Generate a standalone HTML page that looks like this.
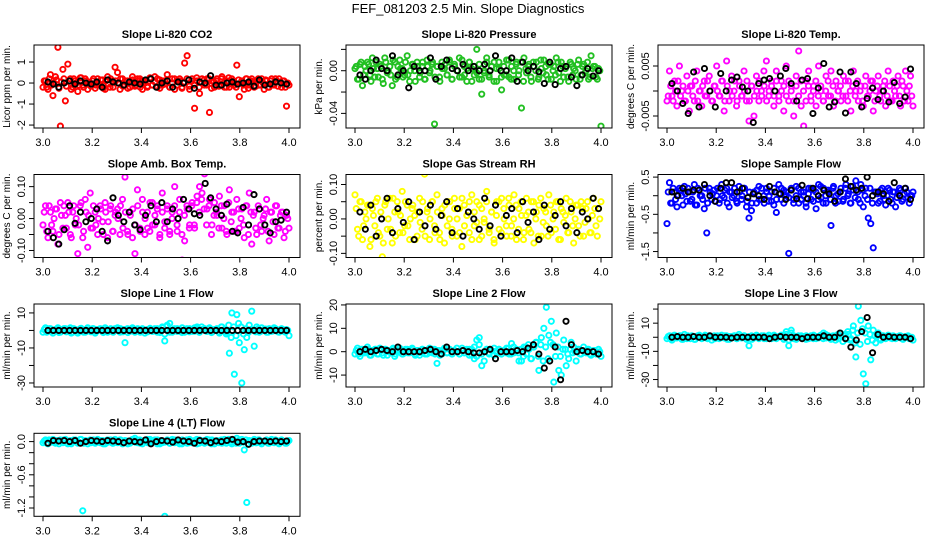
<!DOCTYPE html>
<html><head><meta charset="utf-8"><style>
html,body{margin:0;padding:0;background:#fff;}
svg{display:block;font-family:"Liberation Sans",Arial,sans-serif;}
</style></head><body>
<svg id="chart" width="936" height="540" viewBox="0 0 936 540">
<text x="468" y="13" text-anchor="middle" font-size="13">FEF_081203  2.5 Min. Slope Diagnostics</text>
</svg>
<script>
// ---------- data ----------
const xTicks = [3.0, 3.2, 3.4, 3.6, 3.8, 4.0];
const xTickLabels = ["3.0", "3.2", "3.4", "3.6", "3.8", "4.0"];

const co2Vals = [-0.2,0.1,-0.3,0.4,-0.6,0.3,1.7,-2.05,0.65,-0.85,0.9,0.2,-0.2,0.1,-0.4,0.25,-0.1,0.2,-0.3,0.0,
0.1,-0.25,0.2,-0.1,0.15,-0.3,0.3,-0.2,0.1,0.75,0.5,-0.3,0.2,-0.1,0.1,-0.2,0.3,-0.15,0.1,0.2,
-0.3,0.1,-0.2,0.2,-0.1,0.3,-0.2,0.15,-0.1,0.1,0.4,-0.2,0.2,-0.3,0.1,0.2,-0.2,0.95,1.3,-0.3,
0.2,-1.2,0.1,-0.5,0.2,-0.1,0.2,-1.4,0.1,-0.2,0.2,-0.1,0.3,-0.2,0.1,-0.2,0.2,-0.1,0.85,-0.65,
0.1,-0.3,0.2,-0.1,0.2,-0.2,0.1,-0.1,0.2,-0.3,0.1,-0.2,0.2,-0.1,0.1,0.2,-0.2,0.1,-1.1,-0.1];
const co2Vals2 = [0.1,-0.2,0.2,-0.1,0.0,0.15,-0.25,0.05,0.2,-0.15,0.1,-0.3,0.2,0.0,-0.1,0.25,-0.2,0.1,0.05,-0.15,
0.2,-0.1,0.0,0.15,-0.25,0.1,-0.05,0.2,-0.2,0.1,0.0,0.2,-0.15,0.1,-0.25,0.05,0.15,-0.1,0.2,-0.2,
0.1,0.0,-0.15,0.25,-0.1,0.05,0.2,-0.25,0.1,-0.05,0.15,-0.2,0.0,0.2,-0.1,0.1,-0.25,0.05,0.2,-0.15,
0.1,-0.1,0.25,-0.2,0.0,0.15,-0.1,0.2,-0.25,0.05,0.1,-0.15,0.2,0.0,-0.2,0.25,-0.05,0.1,-0.2,0.15,
0.0,-0.1,0.2,-0.25,0.1,0.05,-0.15,0.2,-0.1,0.0,0.15,-0.2,0.1,-0.05,0.2,-0.15,0.05,0.1,-0.2,0.0];
const co2Ref = [0.05,-0.05,-0.2,0.0,0.1,-0.05,0.1,0.0,-0.05,0.05,-0.2,0.15,0.05,0.0,-0.1,0.05,0.0,-0.05,0.15,0.2,-0.2,0.0,0.1,-0.2,0.05,0.0,0.15,-0.25,0.05,0.0,0.35,-0.1,-0.1,0.0,0.05,-0.05,0.0,0.05,-0.15,0.15,-0.1,-0.05,0.05,0.0,-0.05];

const presVals = [0.002,-0.008,0.006,-0.014,0.004,0.008,-0.004,0.012,-0.006,0.002,
0.006,-0.008,0.012,-0.002,0.004,-0.014,0.008,-0.006,0.01,0.002,
-0.004,0.014,-0.01,0.006,0.0,0.008,-0.006,0.004,-0.008,0.01,
-0.002,0.006,-0.05,0.004,-0.006,0.008,0.002,-0.004,0.01,-0.008,
0.006,0.0,0.012,-0.006,0.004,-0.01,0.008,0.002,-0.004,0.02,
-0.008,-0.022,-0.002,0.012,-0.006,0.004,0.008,-0.01,0.002,-0.018,
-0.004,0.01,-0.006,0.004,-0.008,0.008,0.0,-0.035,0.012,-0.002,
0.006,-0.01,0.004,0.008,-0.006,0.002,0.01,-0.004,0.006,-0.008,
0.004,0.012,-0.002,0.008,-0.006,0.004,-0.01,0.006,0.002,-0.008,
0.01,-0.004,0.006,0.0,-0.008,0.014,0.004,-0.006,0.002,-0.052];
const presVals2 = [0.004,-0.008,0.008,-0.004,0.0,0.006,-0.01,0.002,0.008,-0.006,0.004,-0.012,0.008,0.0,-0.004,0.01,-0.008,0.004,0.002,-0.006,
0.008,-0.004,0.0,0.006,-0.01,0.004,-0.002,0.008,-0.008,0.004,0.0,0.008,-0.006,0.004,-0.01,0.002,0.006,-0.004,0.008,-0.008,
0.004,0.0,-0.006,0.01,-0.004,0.002,0.008,-0.01,0.004,-0.002,0.006,-0.008,0.0,0.008,-0.004,0.004,-0.01,0.002,0.008,-0.006,
0.004,-0.004,0.01,-0.008,0.0,0.006,-0.004,0.008,-0.01,0.002,0.004,-0.006,0.008,0.0,-0.008,0.01,-0.002,0.004,-0.008,0.006,
0.0,-0.004,0.008,-0.01,0.004,0.002,-0.006,0.008,-0.004,0.0,0.006,-0.008,0.004,-0.002,0.008,-0.006,0.002,0.004,-0.008,0.0];
const presRef = [-0.004,-0.008,0.0,0.01,0.002,0.0,0.014,-0.004,0.0,-0.016,0.004,0.0,0.0,0.012,-0.008,0.004,0.01,0.002,0.0,0.006,0.0,0.004,0.0,0.006,0.0,0.014,0.0,0.0,0.012,-0.01,0.008,0.0,0.004,-0.001,-0.012,0.008,-0.013,0.002,0.004,-0.006,-0.014,-0.004,0.002,-0.005,0.0];

const tempVals = [-0.002,0.004,-0.001,0.002,-0.003,0.005,0.0,-0.002,0.003,-0.004,
0.001,-0.002,0.004,0.0,-0.003,0.002,-0.001,0.003,-0.002,0.001,
0.005,-0.001,0.002,-0.004,0.006,-0.002,0.003,0.0,-0.003,0.002,
-0.001,0.004,-0.002,-0.006,0.001,-0.005,0.003,-0.002,0.0,0.004,
0.006,-0.001,0.002,-0.003,0.004,-0.001,0.002,-0.004,0.005,-0.002,
0.001,-0.005,0.003,0.008,-0.003,-0.007,0.002,0.004,-0.002,0.001,
-0.003,0.005,0.0,-0.002,0.003,-0.001,0.004,-0.003,0.002,0.0,
-0.002,0.003,-0.001,0.002,-0.004,0.004,0.0,-0.002,0.001,-0.003,
0.003,-0.001,0.002,-0.004,0.0,0.003,-0.002,0.001,-0.003,0.004,
-0.002,0.002,-0.001,0.003,-0.003,0.001,0.004,-0.002,0.003,-0.003];
const tempVals2 = [-0.001,0.001,-0.002,0.0,0.002,-0.001,0.001,-0.002,0.0,0.001,-0.001,0.002,-0.002,0.0,0.001,-0.001,0.002,0.0,-0.002,0.001,
0.0,-0.001,0.002,-0.002,0.001,0.0,-0.001,0.002,-0.002,0.001,-0.001,0.0,0.002,-0.002,0.001,-0.001,0.0,0.002,-0.001,0.001,
-0.002,0.0,0.001,-0.001,0.002,-0.002,0.0,0.001,-0.001,0.002,0.0,-0.002,0.001,-0.001,0.002,0.0,-0.002,0.001,-0.001,0.0,
0.002,-0.001,0.001,-0.002,0.0,0.002,-0.001,0.001,-0.002,0.0,0.001,-0.001,0.002,-0.002,0.0,0.001,-0.001,0.002,0.0,-0.002,
0.001,-0.001,0.0,0.002,-0.002,0.001,-0.001,0.0,0.002,-0.001,0.001,-0.002,0.0,0.001,-0.001,0.002,-0.002,0.0,0.001,-0.001];
const tempRef = [0.0015,0.0,-0.0025,-0.0045,0.0038,-0.0032,0.0045,0.0,-0.0032,0.0035,0.0,0.0022,0.0028,0.0008,0.0,-0.0063,0.0015,0.0022,0.0025,0.0,0.003,0.0045,0.0015,-0.002,0.0022,0.0025,-0.0045,0.0006,0.0055,-0.0032,-0.0022,0.0038,-0.0044,0.0038,0.0015,-0.0032,-0.0015,0.0006,-0.0017,0.0,-0.0022,0.0017,-0.0025,-0.0012,0.0044];

const ambVals = [-0.02,0.04,-0.06,0.02,-0.04,0.03,-0.08,0.05,-0.03,0.01,
0.05,-0.05,0.02,-0.02,-0.11,0.04,-0.06,0.06,-0.09,0.08,
-0.03,0.02,-0.05,0.04,-0.01,0.05,-0.06,0.03,-0.04,0.01,
0.03,-0.05,0.06,0.13,-0.04,0.02,-0.06,-0.11,0.09,-0.03,
0.06,-0.05,0.02,-0.04,0.05,-0.02,0.03,-0.06,0.08,-0.03,
0.04,-0.05,0.02,0.1,-0.04,0.06,-0.13,-0.07,0.03,-0.02,
0.05,-0.03,0.07,0.1,0.08,0.14,0.03,0.06,-0.02,0.05,
0.01,0.07,-0.03,0.04,-0.05,0.09,0.02,-0.04,0.06,-0.03,
0.03,-0.06,0.04,0.08,-0.08,0.02,-0.05,0.03,-0.04,0.01,
0.06,-0.07,0.02,-0.05,0.04,-0.03,0.02,-0.06,0.01,-0.03];
const ambVals2 = [0.02,-0.04,0.04,-0.02,0.0,0.03,-0.05,0.01,0.04,-0.03,0.02,-0.06,0.04,0.0,-0.02,0.05,-0.04,0.02,0.01,-0.03,
0.04,-0.02,0.0,0.03,-0.05,0.02,-0.01,0.04,-0.04,0.02,0.0,0.04,-0.03,0.02,-0.05,0.01,0.03,-0.02,0.04,-0.04,
0.02,0.0,-0.03,0.05,-0.02,0.01,0.04,-0.05,0.02,-0.01,0.03,-0.04,0.0,0.04,-0.02,0.02,-0.05,0.01,0.04,-0.03,
0.04,-0.02,0.05,0.02,0.06,0.03,-0.02,0.04,-0.05,0.01,0.02,-0.03,0.04,0.0,-0.04,0.05,-0.01,0.02,-0.04,0.03,
0.0,-0.02,0.04,-0.05,0.02,0.01,-0.03,0.04,-0.02,0.0,0.03,-0.04,0.02,-0.01,0.04,-0.03,0.01,0.02,-0.04,0.0];
const ambRef = [-0.04,-0.06,-0.08,-0.035,0.04,-0.015,0.02,-0.01,0.0,0.03,-0.04,-0.07,0.065,0.01,-0.01,0.02,-0.02,-0.035,0.01,0.04,-0.01,0.05,-0.01,0.03,0.0,0.06,0.03,0.015,0.01,0.11,0.065,0.03,0.01,0.045,-0.04,-0.045,0.035,-0.02,0.075,0.03,-0.02,-0.045,-0.01,-0.005,0.02];

const rhVals = [0.07,-0.03,0.05,-0.06,0.02,0.04,-0.08,0.03,-0.02,0.06,
-0.05,-0.11,0.04,-0.03,0.06,-0.07,0.02,0.05,-0.04,0.08,
-0.02,0.04,-0.06,0.03,0.01,-0.05,0.06,-0.03,0.13,0.02,
-0.06,0.05,-0.02,0.07,-0.04,0.03,-0.07,0.05,0.0,-0.03,
0.06,-0.05,0.03,-0.08,0.04,0.01,-0.04,0.07,-0.02,0.05,
-0.06,0.03,-0.01,0.08,-0.04,0.02,-0.07,0.05,-0.03,0.06,
0.0,-0.05,0.04,-0.02,0.07,-0.06,0.03,0.01,-0.04,0.06,
-0.03,0.05,-0.07,0.02,0.04,-0.05,0.03,-0.02,0.07,-0.04,
0.02,0.05,-0.06,0.03,-0.01,0.06,-0.04,0.02,-0.07,0.04,
-0.02,0.05,-0.05,0.03,0.0,-0.04,0.06,-0.02,0.03,0.05];
const rhVals2 = [0.03,-0.05,0.05,-0.02,0.0,0.04,-0.06,0.01,0.05,-0.04,0.02,-0.07,0.05,0.0,-0.03,0.06,-0.05,0.02,0.01,-0.04,
0.05,-0.02,0.0,0.04,-0.06,0.02,-0.01,0.05,-0.05,0.03,0.0,0.05,-0.04,0.02,-0.06,0.01,0.04,-0.02,0.05,-0.05,
0.03,0.0,-0.04,0.06,-0.02,0.01,0.05,-0.06,0.02,-0.01,0.04,-0.05,0.0,0.05,-0.03,0.02,-0.06,0.01,0.05,-0.04,
0.03,-0.02,0.06,-0.05,0.0,0.04,-0.03,0.05,-0.06,0.01,0.02,-0.04,0.05,0.0,-0.05,0.06,-0.01,0.02,-0.05,0.04,
0.0,-0.03,0.05,-0.06,0.02,0.01,-0.04,0.05,-0.02,0.0,0.04,-0.05,0.03,-0.01,0.05,-0.04,0.01,0.03,-0.05,0.0];
const rhRef = [0.02,-0.03,0.04,-0.05,0.0,0.06,-0.04,0.03,-0.01,0.05,-0.06,0.02,-0.02,0.04,-0.03,0.01,0.05,-0.04,0.03,-0.05,0.02,0.0,-0.03,0.06,-0.02,0.04,-0.05,0.01,0.03,-0.04,0.05,-0.01,0.02,-0.06,0.04,-0.03,0.01,0.05,-0.02,0.03,-0.04,0.02,0.0,0.06,0.03];

const sampVals = [-0.75,0.35,-0.2,0.1,-0.3,0.2,0.0,0.25,-0.15,0.1,
-0.1,0.3,-0.25,0.15,0.0,-0.35,-1.0,0.2,-0.1,0.15,
0.0,-0.2,0.3,-0.05,0.2,-0.3,0.1,0.0,-0.15,0.25,
-0.1,0.2,-0.3,-0.6,-0.4,0.1,-0.2,0.25,-0.1,0.0,
0.2,-0.15,0.1,-0.25,-0.45,0.3,-0.1,0.15,0.0,-1.55,
0.2,-0.1,0.25,-0.2,0.1,0.0,-0.3,0.2,-0.1,0.15,
-0.35,0.3,-0.05,0.2,-0.2,0.1,-0.8,0.25,0.0,-0.15,
0.2,-0.1,0.3,0.05,-0.2,0.15,0.4,-0.1,0.3,-0.3,
0.2,-0.6,-0.75,-1.4,0.1,-0.2,0.15,0.0,-0.25,0.2,
-0.1,0.1,-0.3,0.05,0.15,-0.1,0.2,-0.05,0.0,0.1];
const sampVals2 = [0.1,-0.2,0.2,-0.1,0.0,0.15,-0.25,0.05,0.2,-0.15,0.1,-0.25,0.2,0.0,-0.1,0.2,-0.2,0.1,0.05,-0.15,
0.2,-0.1,0.0,0.15,-0.2,0.1,-0.05,0.2,-0.2,0.1,0.0,0.2,-0.15,0.1,-0.2,0.05,0.15,-0.1,0.2,-0.2,
0.1,0.0,-0.15,0.2,-0.1,0.05,0.2,-0.2,0.1,-0.05,0.15,-0.2,0.0,0.2,-0.1,0.1,-0.2,0.05,0.2,-0.15,
0.1,-0.1,0.25,-0.2,0.0,0.15,-0.1,0.2,-0.2,0.05,0.1,-0.15,0.2,0.0,-0.2,0.25,-0.05,0.1,-0.2,0.15,
0.0,-0.1,0.2,-0.2,0.1,0.05,-0.15,0.2,-0.1,0.0,0.15,-0.2,0.1,-0.05,0.2,-0.15,0.05,0.1,-0.2,0.0];
const sampRef = [0.1,0.0,0.2,0.1,0.15,0.15,0.3,0.0,-0.15,0.2,0.35,0.35,0.1,0.2,-0.05,0.05,0.0,-0.1,0.25,0.1,0.05,-0.1,0.15,-0.08,0.28,-0.08,0.2,0.0,0.15,0.05,-0.15,0.1,0.45,0.25,0.15,0.2,0.5,0.0,0.1,0.05,-0.15,0.35,0.0,0.2,-0.1];

const line1Vals = [-1,1.5,-0.5,1,-1.5,0.5,1.5,-1,0.5,1,
-0.5,1.5,-1,0.5,-1.5,1,0,-1,1.5,-0.5,
1,-1.5,0.5,1,-0.5,1.5,-1,0.5,-0.5,1,
1.5,-1,0.5,-7,1,-0.5,1.5,-1,0.5,0,
1,-1.5,0.5,1,-0.5,1,-1,0.5,1.5,-6,
3,4,-1,0.5,1,-0.5,1.5,-1,0.5,1,
-0.5,1.5,2,-1,0.5,1,-0.5,1.5,-1,0.5,
1,-1.5,2,0.5,-1,-13,10,-25,9,-7,
-30,-11,-4,3,11,-9,2,-1,1.5,0.5,
-1,1,-0.5,1.5,0.5,-1,1,-0.5,0.5,-3];
const line1Vals2 = [0.5,-1,1,-0.5,0,0.8,-1.2,0.3,1,-0.8,0.5,-1.5,1,0,-0.5,1.2,-1,0.5,0.3,-0.8,
1,-0.5,0,0.8,-1.2,0.5,-0.3,1,-1,0.5,0,1,-0.8,0.5,-1.2,0.3,0.8,-0.5,1,-1,
0.5,0,-0.8,1.2,-0.5,0.3,1,-1.2,2,-2,2.5,-1,0,1,-0.5,0.5,-1.2,0.3,1,-0.8,
0.5,-0.5,1.2,-1,2,0.8,-0.5,1,-1.2,0.3,0.5,-0.8,2,0,-2,3,-4,2,-3,4,
2,-2,1,-1.2,0.5,0.3,-0.8,1,-0.5,0,0.8,-1,0.5,-0.3,1,-0.8,0.3,0.5,-1,0];
const line1Ref = [0,0,0,0,0,0,0,0,0,0,0,0,0,0,0,0,0,0,0,0,0,0,0,0,0,0,0,0,0,0,0,0,0,0,0,0,0,0,0,0,0,0,0,0,0];

const line2Vals = [-1,1.5,-2,1,-0.5,2,-1.5,0.5,1,-1,
1.5,-0.5,1,-1.5,0.5,1,-2,0.5,1.5,-1,
0.5,1,-0.5,1.5,-1,0.5,-1.5,1,0.5,-1,
1.5,-0.5,1,-5,0.5,-1,1.5,-0.5,1,-1,
0.5,1.5,-1,0.5,-0.5,1,-1.5,1,-3,5,
6,-6,-4,1,-1,0.5,1.5,-0.5,1,-1,
0.5,1.5,-1,3.5,-0.5,1,-4,-4,2,-1,
1,-3,2,4,-8,6,10,19,7,13,
-13,8,-8,-10,5,-6,-3,4,2,-4,
1,-1,2,-0.5,1,-1.5,0.5,-1,1,-2];
const line2Vals2 = [0.5,-1,1,-0.5,0,1,-1.5,0.3,1,-1,0.5,-1.5,1,0,-0.5,1.5,-1,0.5,0.3,-1,
1,-0.5,0,1,-1.5,0.5,-0.3,1,-1,0.5,0,1,-1,0.5,-1.5,0.3,1,-0.5,1,-1,
0.5,0,-1,1.5,-0.5,0.3,1,-1.5,2,-2,3,-1,0,1,-0.5,0.5,-1.5,0.3,1,-1,
0.5,-0.5,1.5,-1,2,1,-0.5,1,-2,2,3,-3,2,4,-2,3,-4,2,-3,4,
3,-2,2,-2,1,1,-1,1,-0.5,0,1,-1,0.5,-0.3,1,-1,0.3,0.5,-1,0];
const line2Ref = [0,1,0,0.5,1,0.5,0,2,0,0,0,0,0.5,1,0,-1,2,0,0,0.5,0,-0.5,-0.5,0,1,-3,0,0,0,0.5,0,1.5,3,-1,-7,-4,2,-12,13,3,0,0.5,0,0,-1];

const line3Vals = [-1,1,-2,1.5,-0.5,1,-1.5,2,-1,0.5,
1,-1.5,0.5,1.5,-1,0.5,-0.5,1,-2,1,
0.5,-1,1.5,-0.5,1,-1.5,0.5,1,-1,2,
-0.5,1,-1.5,-6,1,-0.5,1.5,-1,0.5,1,
-1,1.5,-0.5,1,-1,0.5,1.5,-1,4,-6,
5,1,-1.5,0.5,1,-0.5,1,-1,0.5,1.5,
-1,0.5,1,3,-0.5,1,-1.5,0.5,1,-1,
0.5,1,-1.5,2,-1,8,-14,22,12,-26,
-33,8,-16,5,-4,3,-2,1,-1,1.5,
-0.5,1,-1,0.5,1,-1.5,0.5,1,-1,-2];
const line3Vals2 = [0.5,-1,1,-0.5,0,1,-1.5,0.3,1,-1,0.5,-1.5,1,0,-0.5,1.5,-1,0.5,0.3,-1,
1,-0.5,0,1,-1.5,0.5,-0.3,1,-1,0.5,0,1,-1,0.5,-1.5,0.3,1,-0.5,1,-1,
0.5,0,-1,1.5,-0.5,0.3,1,-1.5,2,-2,3,-1,0,1,-0.5,0.5,-1.5,0.3,1,-1,
0.5,-0.5,1.5,-1,2,1,-0.5,1,-2,2,3,-3,2,4,-2,5,-4,3,-5,6,
3,-3,2,-2,1,1,-1,1,-0.5,0,1,-1,0.5,-0.3,1,-1,0.3,0.5,-1,0];
const line3Ref = [0,0.5,0,0,0.5,0,0,1,0,0,0,-0.5,0,0,0,0,0,0,-1,0,0.5,0,0,0,-1,0,0,0,1,0,0,3,-1,-7,-2,4,14,-11,2,0,0.5,0,0,0,-1];

const line4Vals = [-0.02,0.03,-0.04,0.02,0.04,-0.03,0.01,0.03,-0.02,0.04,
-0.04,0.02,-0.01,0.03,-0.03,0.04,-1.25,0.02,-0.04,0.03,
0.01,-0.03,0.04,-0.02,0.02,-0.04,0.03,0.0,-0.03,0.04,
-0.02,0.03,-0.04,0.02,0.01,-0.03,0.04,0.06,-0.02,0.03,
-0.04,0.02,0.04,-0.03,0.01,0.03,-0.04,0.02,-0.02,-1.35,
0.03,-0.03,0.04,-0.02,0.02,-0.04,0.03,0.01,-0.03,0.04,
-0.02,0.02,-0.04,0.03,0.0,-0.03,0.04,-0.02,0.03,-0.04,
0.02,0.01,-0.03,0.04,-0.02,0.03,-0.04,0.02,0.06,-0.03,
0.04,-0.15,-1.1,0.02,-0.03,0.04,-0.02,0.03,-0.04,0.01,
0.03,-0.03,0.04,-0.02,0.02,-0.04,0.03,0.0,-0.03,0.02];
const line4Vals2 = [0.01,-0.03,0.03,-0.01,0.0,0.02,-0.04,0.01,0.03,-0.02,0.01,-0.04,0.03,0.0,-0.01,0.04,-0.03,0.01,0.01,-0.02,
0.03,-0.01,0.0,0.02,-0.04,0.01,-0.01,0.03,-0.03,0.01,0.0,0.03,-0.02,0.01,-0.04,0.01,0.02,-0.01,0.03,-0.03,
0.01,0.0,-0.02,0.04,-0.01,0.01,0.03,-0.04,0.01,-0.01,0.02,-0.03,0.0,0.03,-0.01,0.01,-0.04,0.01,0.03,-0.02,
0.01,-0.01,0.04,-0.03,0.0,0.02,-0.01,0.03,-0.04,0.01,0.01,-0.02,0.03,0.0,-0.03,0.04,-0.01,0.01,-0.03,0.02,
0.0,-0.01,0.03,-0.04,0.01,0.01,-0.02,0.03,-0.01,0.0,0.02,-0.03,0.01,-0.01,0.03,-0.02,0.01,0.01,-0.03,0.0];
const line4Ref = [-0.03,0.02,0.01,0.02,0.0,0.02,-0.03,0.0,0.02,0.01,0.0,0.02,0.01,0.0,-0.02,0.01,0.0,-0.01,0.03,-0.04,0.0,0.02,0.01,-0.01,0.03,0.01,0.0,-0.03,0.02,0.01,-0.02,0.01,0.0,0.02,0.04,-0.01,0.0,-0.05,0.0,0.01,0.01,0.0,0.01,0.0,0.01];

// ---------- layout / rendering ----------
const NS = "http://www.w3.org/2000/svg";
const svg = document.getElementById("chart");
const colLeft = [34, 346, 658];
const rowTop = [45, 174.5, 304, 433.3];
const boxW = 266, boxH = 83;

const panels = [
 {name:"co2", title:"Slope Li-820 CO2", ylab:"Licor ppm per min.", col:"#ff0000", vals:co2Vals, vals2:co2Vals2, ref:co2Ref, ymin:-2.14, ymax:1.81, ticks:[-2,-1,0,1], labels:["-2","-1","0","1"]},
 {name:"pressure", title:"Slope Li-820 Pressure", ylab:"kPa per min.", col:"#22c022", vals:presVals, vals2:presVals2, ref:presRef, ymin:-0.0537, ymax:0.0241, ticks:[-0.04,-0.02,0,0.02], labels:["-0.04","","0.00",""]},
 {name:"temp", title:"Slope Li-820 Temp.", ylab:"degrees C per min.", col:"#ff00ff", vals:tempVals, vals2:tempVals2, ref:tempRef, ymin:-0.0074, ymax:0.0092, ticks:[-0.005,0,0.005], labels:["-0.005","","0.005"]},
 {name:"amb-box-temp", title:"Slope Amb. Box Temp.", ylab:"degrees C per min.", col:"#ff00ff", vals:ambVals, vals2:ambVals2, ref:ambRef, ymin:-0.122, ymax:0.138, ticks:[-0.1,-0.05,0,0.05,0.1], labels:["-0.10","","0.00","","0.10"]},
 {name:"gas-stream-rh", title:"Slope Gas Stream RH", ylab:"percent per min.", col:"#ffff00", vals:rhVals, vals2:rhVals2, ref:rhRef, ymin:-0.112, ymax:0.129, ticks:[-0.1,-0.05,0,0.05,0.1], labels:["-0.10","","0.00","","0.10"]},
 {name:"sample-flow", title:"Slope Sample Flow", ylab:"ml/min per min.", col:"#0000ff", vals:sampVals, vals2:sampVals2, ref:sampRef, ymin:-1.66, ymax:0.57, ticks:[-1.5,-1,-0.5,0,0.5], labels:["-1.5","","-0.5","","0.5"]},
 {name:"line1-flow", title:"Slope Line 1 Flow", ylab:"ml/min per min.", col:"#00ffff", vals:line1Vals, vals2:line1Vals2, ref:line1Ref, ymin:-32.3, ymax:15.1, ticks:[-30,-20,-10,0,10], labels:["-30","","-10","","10"]},
 {name:"line2-flow", title:"Slope Line 2 Flow", ylab:"ml/min per min.", col:"#00ffff", vals:line2Vals, vals2:line2Vals2, ref:line2Ref, ymin:-15.1, ymax:20.4, ticks:[-10,0,10,20], labels:["-10","0","10","20"]},
 {name:"line3-flow", title:"Slope Line 3 Flow", ylab:"ml/min per min.", col:"#00ffff", vals:line3Vals, vals2:line3Vals2, ref:line3Ref, ymin:-35.3, ymax:23.6, ticks:[-30,-20,-10,0,10,20], labels:["-30","","-10","","10",""]},
 {name:"line4-flow", title:"Slope Line 4 (LT) Flow", ylab:"ml/min per min.", col:"#00ffff", vals:line4Vals, vals2:line4Vals2, ref:line4Ref, ymin:-1.35, ymax:0.15, ticks:[-1.2,-1,-0.8,-0.6,-0.4,-0.2,0], labels:["-1.2","","","-0.6","","","0.0"]}
];

function mk(tag, attrs, parent){
  const e = document.createElementNS(NS, tag);
  for (const k in attrs) e.setAttribute(k, attrs[k]);
  (parent||svg).appendChild(e);
  return e;
}

panels.forEach((p, idx) => {
  const L = colLeft[idx % 3], T = rowTop[Math.floor(idx / 3)];
  const g = mk("g", {});
  
  
  const xs = v => L + 9 + (v - 3) * 246;
  const ys = v => T + (p.ymax - v) / (p.ymax - p.ymin) * boxH;

  const t = mk("text", {x: L + boxW/2, y: T - 7, "text-anchor":"middle", "font-size":"11", "font-weight":"bold"}, g);
  t.textContent = p.title;
  
  

  const cp = mk("clipPath", {id:"clip"+idx}, g);
  mk("rect", {x:L, y:T, width:boxW, height:boxH}, cp);
  const pts = mk("g", {"clip-path":"url(#clip"+idx+")", fill:"none", "stroke-width":"1.9"}, g);
  
  
  const n = p.vals.length;
  p.vals.forEach((v, i) => {
    const c = mk("circle", {cx: xs(3 + i/(n-1)), cy: ys(v), r: 2.6, stroke: p.col}, pts);
    
    
  });
  const n2 = p.vals2.length;
  p.vals2.forEach((v, i) => {
    const c = mk("circle", {cx: xs(3 + (i+0.5)/n2), cy: ys(v), r: 2.6, stroke: p.col}, pts);
    
    
  });
  const m = p.ref.length;
  p.ref.forEach((v, i) => {
    const c = mk("circle", {cx: xs(3.02 + i*0.97/(m-1)), cy: ys(v), r: 2.6, stroke: "#000"}, pts);
    
    
  });

  const b = mk("rect", {x:L, y:T, width:boxW, height:boxH, fill:"none", stroke:"#000", "stroke-width":"1"}, g);
  
  

  const xa = mk("g", {}, g);
  
  
  mk("line", {x1: xs(3), x2: xs(4), y1: T+boxH, y2: T+boxH, stroke:"#000"}, xa);
  xTicks.forEach((v, i) => {
    mk("line", {x1: xs(v), x2: xs(v), y1: T+boxH, y2: T+boxH+5, stroke:"#000"}, xa);
    const tl = mk("text", {x: xs(v), y: T+boxH+18, "text-anchor":"middle", "font-size":"11"}, xa);
    tl.textContent = xTickLabels[i];
    
    
  });

  const ya = mk("g", {}, g);
  
  
  const tk = p.ticks;
  mk("line", {x1: L, x2: L, y1: ys(tk[0]), y2: ys(tk[tk.length-1]), stroke:"#000"}, ya);
  tk.forEach((v, i) => {
    mk("line", {x1: L-5, x2: L, y1: ys(v), y2: ys(v), stroke:"#000"}, ya);
    if (p.labels[i]) {
      const tx = L - 9, ty = ys(v);
      const tl = mk("text", {x: tx, y: ty, "text-anchor":"middle", "font-size":"11", transform:"rotate(-90 "+tx+" "+ty+")"}, ya);
      tl.textContent = p.labels[i];
      
      
    }
  });
  const lx = L - 24, ly = T + boxH/2;
  const yl = mk("text", {x: lx, y: ly, "text-anchor":"middle", "font-size":"10", transform:"rotate(-90 "+lx+" "+ly+")"}, g);
  yl.textContent = p.ylab;
  
  
});
</script>
</body></html>
